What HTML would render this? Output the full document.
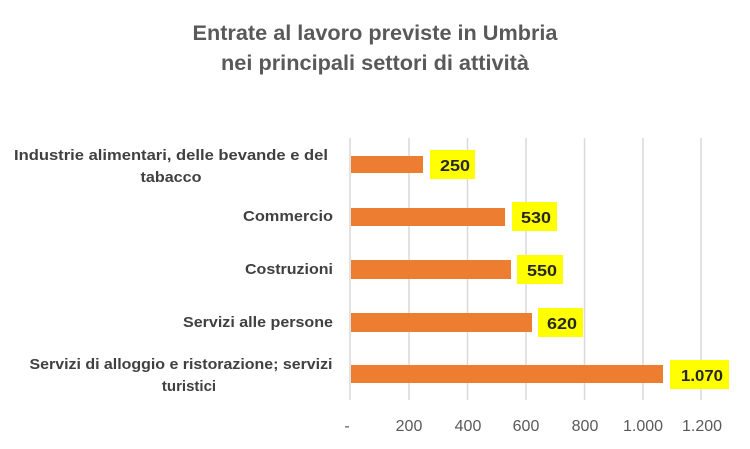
<!DOCTYPE html>
<html><head><meta charset="utf-8"><style>
html,body{margin:0;padding:0;background:#fff;}
svg{display:block;}
</style></head><body>
<svg width="750" height="449" viewBox="0 0 750 449" xmlns="http://www.w3.org/2000/svg" font-family="Liberation Sans, sans-serif">
<rect width="750" height="449" fill="#fff"/>
<g fill="#595959" font-weight="bold" font-size="21" text-anchor="middle">
<text x="375" y="40" textLength="365" lengthAdjust="spacingAndGlyphs">Entrate al lavoro previste in Umbria</text>
<text x="375" y="70" textLength="308" lengthAdjust="spacingAndGlyphs">nei principali settori di attività</text>
</g>
<g stroke="#d9d9d9" stroke-width="1.5">
<line x1="350" y1="138" x2="350" y2="400"/>
<line x1="409" y1="138" x2="409" y2="400"/>
<line x1="467.5" y1="138" x2="467.5" y2="400"/>
<line x1="526" y1="138" x2="526" y2="400"/>
<line x1="584.5" y1="138" x2="584.5" y2="400"/>
<line x1="643" y1="138" x2="643" y2="400"/>
<line x1="701" y1="138" x2="701" y2="400"/>
</g>
<g fill="#ed7d31">
<rect x="351" y="156" width="72" height="17"/>
<rect x="351" y="208" width="154" height="18"/>
<rect x="351" y="260" width="160" height="19"/>
<rect x="351" y="313" width="181" height="19"/>
<rect x="351" y="365" width="312" height="18"/>
</g>
<g fill="#ffff00">
<rect x="430" y="150" width="45" height="29"/>
<rect x="512" y="202" width="45" height="29"/>
<rect x="517" y="255" width="46" height="29"/>
<rect x="538" y="308" width="45" height="29"/>
<rect x="670" y="360" width="59" height="29"/>
</g>
<g fill="#262626" font-weight="bold" font-size="16" text-anchor="middle">
<text x="455" y="171" textLength="30" lengthAdjust="spacingAndGlyphs">250</text>
<text x="536" y="223" textLength="30" lengthAdjust="spacingAndGlyphs">530</text>
<text x="542" y="276" textLength="30" lengthAdjust="spacingAndGlyphs">550</text>
<text x="562" y="329" textLength="30" lengthAdjust="spacingAndGlyphs">620</text>
<text x="702" y="381" textLength="42" lengthAdjust="spacingAndGlyphs">1.070</text>
</g>
<g fill="#404040" font-weight="bold" font-size="15">
<text x="171" y="160" text-anchor="middle" textLength="314" lengthAdjust="spacingAndGlyphs">Industrie alimentari, delle bevande e del</text>
<text x="171" y="182" text-anchor="middle" textLength="61" lengthAdjust="spacingAndGlyphs">tabacco</text>
<text x="333" y="221" text-anchor="end" textLength="90" lengthAdjust="spacingAndGlyphs">Commercio</text>
<text x="333" y="274" text-anchor="end" textLength="88" lengthAdjust="spacingAndGlyphs">Costruzioni</text>
<text x="333" y="327" text-anchor="end" textLength="150" lengthAdjust="spacingAndGlyphs">Servizi alle persone</text>
<text x="181" y="369" text-anchor="middle" textLength="303" lengthAdjust="spacingAndGlyphs">Servizi di alloggio e ristorazione; servizi</text>
<text x="189" y="391" text-anchor="middle">turistici</text>
</g>
<g fill="#595959" font-size="16" text-anchor="middle">
<text x="347" y="431">-</text>
<text x="409" y="431">200</text>
<text x="468" y="431">400</text>
<text x="526" y="431">600</text>
<text x="585" y="431">800</text>
<text x="643" y="431">1.000</text>
<text x="702" y="431">1.200</text>
</g>
</svg>
</body></html>
